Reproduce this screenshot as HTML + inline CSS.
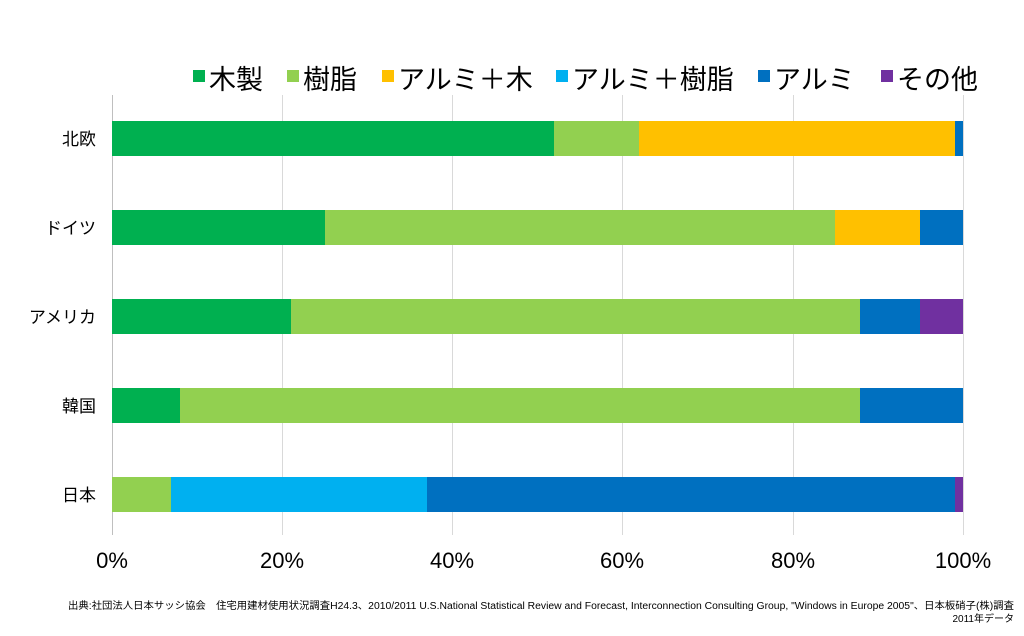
<!DOCTYPE html>
<html><head><meta charset="utf-8"><style>body{margin:0;background:#fff}</style></head>
<body>
<svg width="1024" height="631" xmlns="http://www.w3.org/2000/svg" font-family="'Liberation Sans','Noto Sans CJK JP',sans-serif">
<g stroke="#d9d9d9" stroke-width="1">
<line x1="282.5" y1="95" x2="282.5" y2="535"/>
<line x1="452.5" y1="95" x2="452.5" y2="535"/>
<line x1="622.5" y1="95" x2="622.5" y2="535"/>
<line x1="793.5" y1="95" x2="793.5" y2="535"/>
<line x1="963.5" y1="95" x2="963.5" y2="535"/>
</g>
<line x1="112.5" y1="95" x2="112.5" y2="535" stroke="#bfbfbf"/>
<!-- 北欧 -->
<rect x="112" y="121" width="442" height="35" fill="#00b050"/>
<rect x="554" y="121" width="85" height="35" fill="#92d050"/>
<rect x="639" y="121" width="316" height="35" fill="#ffc000"/>
<rect x="955" y="121" width="8" height="35" fill="#0070c0"/>
<!-- ドイツ -->
<rect x="112" y="210" width="213" height="35" fill="#00b050"/>
<rect x="325" y="210" width="510" height="35" fill="#92d050"/>
<rect x="835" y="210" width="85" height="35" fill="#ffc000"/>
<rect x="920" y="210" width="43" height="35" fill="#0070c0"/>
<!-- アメリカ -->
<rect x="112" y="299" width="179" height="35" fill="#00b050"/>
<rect x="291" y="299" width="569" height="35" fill="#92d050"/>
<rect x="860" y="299" width="60" height="35" fill="#0070c0"/>
<rect x="920" y="299" width="43" height="35" fill="#7030a0"/>
<!-- 韓国 -->
<rect x="112" y="388" width="68" height="35" fill="#00b050"/>
<rect x="180" y="388" width="680" height="35" fill="#92d050"/>
<rect x="860" y="388" width="103" height="35" fill="#0070c0"/>
<!-- 日本 -->
<rect x="112" y="477" width="59" height="35" fill="#92d050"/>
<rect x="171" y="477" width="256" height="35" fill="#00b0f0"/>
<rect x="427" y="477" width="528" height="35" fill="#0070c0"/>
<rect x="955" y="477" width="8" height="35" fill="#7030a0"/>
<g font-size="17" text-anchor="end" fill="#000">
<text x="96" y="145">北欧</text>
<text x="96" y="234">ドイツ</text>
<text x="96" y="323">アメリカ</text>
<text x="96" y="412">韓国</text>
<text x="96" y="501">日本</text>
</g>
<g font-size="22" text-anchor="middle" fill="#000">
<text x="112" y="568">0%</text>
<text x="282" y="568">20%</text>
<text x="452" y="568">40%</text>
<text x="622" y="568">60%</text>
<text x="793" y="568">80%</text>
<text x="963" y="568">100%</text>
</g>
<g font-size="27" fill="#000">
<rect x="193" y="70" width="12" height="12" fill="#00b050"/><text x="209" y="89">木製</text>
<rect x="287" y="70" width="12" height="12" fill="#92d050"/><text x="303" y="89">樹脂</text>
<rect x="382" y="70" width="12" height="12" fill="#ffc000"/><text x="398" y="89">アルミ＋木</text>
<rect x="556" y="70" width="12" height="12" fill="#00b0f0"/><text x="572" y="89">アルミ＋樹脂</text>
<rect x="758" y="70" width="12" height="12" fill="#0070c0"/><text x="774" y="89">アルミ</text>
<rect x="881" y="70" width="12" height="12" fill="#7030a0"/><text x="897" y="89">その他</text>
</g>
<g font-size="10" fill="#000">
<text x="68" y="609" textLength="946" lengthAdjust="spacingAndGlyphs">出典:社団法人日本サッシ協会　住宅用建材使用状況調査H24.3、2010/2011 U.S.National Statistical Review and Forecast, Interconnection Consulting Group, "Windows in Europe 2005"、日本板硝子(株)調査</text>
<text x="1014" y="622" text-anchor="end">2011年データ</text>
</g>
</svg>
</body></html>
